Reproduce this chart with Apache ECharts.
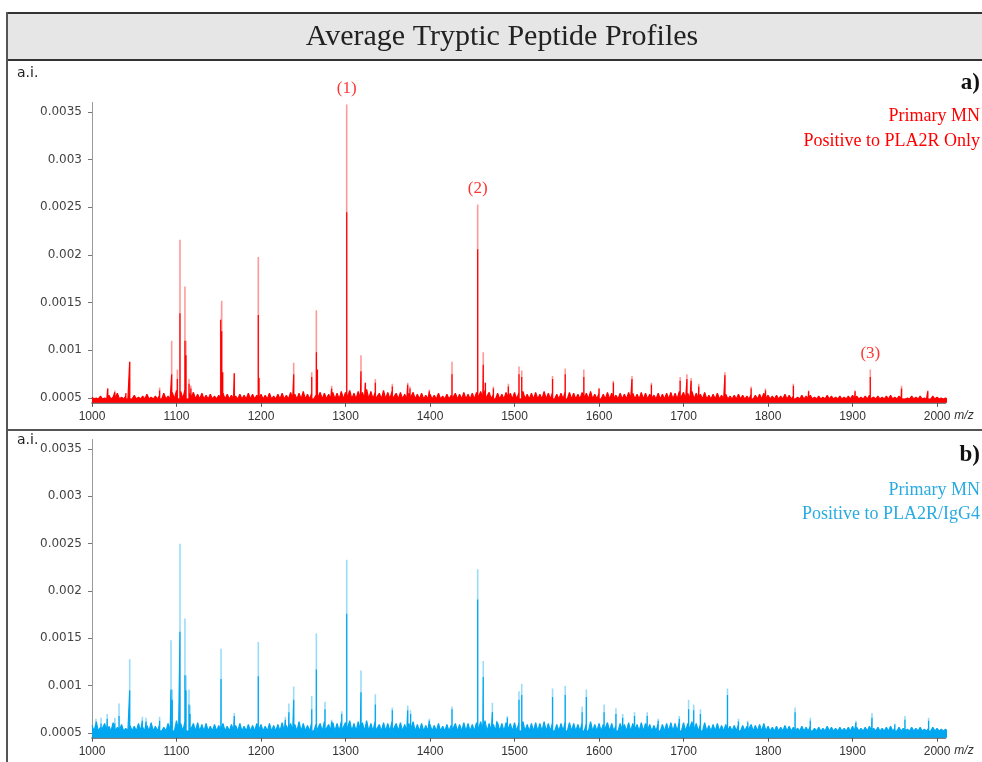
<!DOCTYPE html>
<html><head><meta charset="utf-8">
<script src="https://cdn.jsdelivr.net/npm/echarts@6/dist/echarts.min.js"></script>
<style>html,body{margin:0;padding:0;background:#fff}#c{width:982px;height:762px}</style>
</head><body><div id="c"></div>
<script>
// ---------- data ----------
const xTicks = [1000,1100,1200,1300,1400,1500,1600,1700,1800,1900,2000];
const yTicks = [0.0005,0.001,0.0015,0.002,0.0025,0.003,0.0035];

// peaks: [m/z, top intensity, intensity of the dense (core) part]
const peaksA = [
 [1018.6,0.00060,0.00060],[1027,0.00058,0.00056],[1040,0.00055,0.00055],[1044.6,0.00088,0.00088],
 [1080,0.00061,0.00058],[1094.3,0.00110,0.00075],[1101,0.00080,0.00070],[1104.1,0.00216,0.00139],
 [1110,0.00167,0.00110],[1111.2,0.00110,0.00095],[1114.8,0.00070,0.00065],[1117,0.00063,0.00060],
 [1152.3,0.00132,0.00132],[1153.5,0.00152,0.00120],[1154.6,0.00077,0.00077],[1168.4,0.00076,0.00076],
 [1196.8,0.00198,0.00137],[1197.6,0.00071,0.00071],[1238.7,0.00087,0.00075],[1260,0.00077,0.00072],
 [1265.5,0.00142,0.00098],[1266.7,0.00080,0.00080],[1283.6,0.00063,0.00060],[1301.4,0.00358,0.00245],
 [1318.3,0.00095,0.00078],[1323.5,0.00066,0.00066],[1335.3,0.00070,0.00066],[1355.4,0.00065,0.00062],
 [1373.6,0.00066,0.00064],[1376.3,0.00062,0.00060],[1399.2,0.00059,0.00057],[1426,0.00088,0.00075],
 [1456.4,0.00253,0.00206],[1463,0.00098,0.00085],[1465.5,0.00066,0.00066],[1475,0.00062,0.00060],
 [1492.7,0.00065,0.00062],[1505.3,0.00083,0.00075],[1508.5,0.00079,0.00072],[1545,0.00073,0.00070],
 [1560,0.00081,0.00075],[1582,0.00080,0.00072],[1600,0.00060,0.00060],[1617,0.00068,0.00066],
 [1639,0.00073,0.00070],[1662,0.00066,0.00064],[1696,0.00072,0.00068],[1704,0.00075,0.00070],
 [1709,0.00071,0.00068],[1718,0.00065,0.00062],[1749,0.00077,0.00074],[1780,0.00062,0.00060],
 [1797,0.00060,0.00058],[1830,0.00065,0.00063],[1848,0.00058,0.00057],[1903,0.00058,0.00057],
 [1921,0.00080,0.00072],[1958,0.00063,0.00060],[1989,0.00058,0.00057]
];
const peaksB = [
 [1004.7,0.00065,0.00060],[1010.7,0.00066,0.00060],[1018,0.00070,0.00065],[1027,0.00066,0.00060],
 [1032,0.00081,0.00068],[1044.6,0.00128,0.00095],[1059.6,0.00067,0.00063],[1064,0.00066,0.00062],
 [1080,0.00067,0.00063],[1093.5,0.00148,0.00096],[1095,0.00096,0.00085],[1104.1,0.00250,0.00157],
 [1110,0.00171,0.00111],[1111.2,0.00111,0.00095],[1114.8,0.00096,0.00080],[1116,0.00079,0.00070],
 [1152.7,0.00139,0.00107],[1168.4,0.00071,0.00068],[1196.8,0.00146,0.00110],[1228.8,0.00067,0.00064],
 [1233,0.00081,0.00072],[1238.7,0.00099,0.00085],[1260,0.00089,0.00075],[1265.5,0.00155,0.00117],
 [1275.7,0.00083,0.00075],[1283.6,0.00064,0.00062],[1295.5,0.00073,0.00070],[1301.4,0.00233,0.00176],
 [1318.3,0.00116,0.00093],[1335.3,0.00091,0.00080],[1355.4,0.00077,0.00074],[1373.6,0.00079,0.00074],
 [1377,0.00074,0.00070],[1399.2,0.00065,0.00063],[1426,0.00078,0.00075],[1456.4,0.00223,0.00191],
 [1463,0.00126,0.00109],[1473.8,0.00082,0.00072],[1479,0.00063,0.00062],[1491.5,0.00068,0.00066],
 [1505.3,0.00094,0.00085],[1508.5,0.00102,0.00090],[1545,0.00097,0.00088],[1560,0.00100,0.00090],
 [1580,0.00078,0.00072],[1585,0.00096,0.00088],[1606,0.00080,0.00072],[1620,0.00076,0.00070],
 [1628,0.00070,0.00066],[1642,0.00072,0.00068],[1657,0.00072,0.00068],[1670,0.00065,0.00063],
 [1695,0.00068,0.00065],[1706,0.00085,0.00075],[1712,0.00080,0.00074],[1720,0.00075,0.00070],
 [1752,0.00097,0.00090],[1765,0.00065,0.00062],[1776,0.00063,0.00061],[1832,0.00077,0.00072],
 [1850,0.00066,0.00063],[1904,0.00063,0.00061],[1923,0.00071,0.00066],[1950,0.00060,0.00059],
 [1962,0.00068,0.00064],[1990,0.00066,0.00063]
];

// background "grass": one value every 5 m/z from 1000 to 2010, in units of 1e-5
const noiseStart = 1000, noiseStep = 5, noiseUnit = 1e-5;
const noiseA = [
 51,50,52,50,53,51,55,51,52,50,53,51,52,54,51,52,53,55,52,56,
 58,57,59,55,56,54,55,53,54,52,53,55,54,53,52,54,53,55,54,53,
 54,53,55,52,54,55,53,56,54,55,57,54,55,53,56,55,54,56,55,57,
 56,58,55,57,56,59,57,56,55,58,56,57,55,56,54,55,56,54,55,53,
 54,53,55,52,54,53,55,54,56,54,55,56,57,58,56,54,55,54,56,55,
 56,55,57,54,55,56,54,57,55,56,54,55,57,56,55,54,56,55,57,54,
 55,54,56,55,53,55,54,56,55,54,56,55,54,53,55,54,55,56,55,57,
 56,55,57,55,54,56,53,54,55,53,54,52,53,54,53,52,54,53,54,55,
 53,52,53,52,54,53,52,51,53,52,53,51,52,51,53,52,51,52,51,52,
 53,52,51,52,53,51,52,51,52,53,51,52,51,50,52,51,52,50,51,52,
 51,50,50
];
const noiseB = [
 58,62,56,60,57,61,56,59,55,58,57,60,56,58,61,57,59,56,60,62,
 63,60,62,58,60,61,59,60,57,59,58,60,57,59,58,60,57,59,58,60,
 59,57,60,58,59,61,58,60,59,62,60,58,61,59,60,62,59,61,60,62,
 61,63,60,62,61,63,60,62,59,61,60,62,60,61,59,60,62,59,60,58,
 59,58,60,57,59,58,60,59,61,60,59,61,62,63,60,59,61,60,61,60,
 61,60,62,59,60,61,60,62,60,61,59,60,62,61,60,59,61,60,62,59,
 60,59,61,60,58,60,59,61,60,59,61,60,59,58,60,59,60,61,60,62,
 61,60,62,60,59,61,58,59,60,58,59,57,58,59,58,57,59,58,59,60,
 57,56,57,56,58,57,56,55,57,56,57,55,56,55,57,56,55,56,55,56,
 57,56,55,56,57,55,56,55,56,57,55,56,55,54,56,55,56,54,55,56,
 55,54,54
];
const baseA = 0.00049, baseB = 0.00052;
const annotA = [[1301.4,0.00358,'(1)'],[1456.4,0.00253,'(2)'],[1921,0.00080,'(3)']];

// ---------- build series data ----------
function stickLine(peaks, idx, base) {
  const pts = [];
  peaks.slice().sort((a,b)=>a[0]-b[0]).forEach(p => { pts.push([p[0],base],[p[0],p[idx]],[p[0],base]); });
  return pts;
}
function denseLine(peaks, noise, base) {
  const ev = [];
  noise.forEach((v,i) => {
    const x = noiseStart + i*noiseStep;
    ev.push({x:x, pts:[[x, v*noiseUnit]]});
    ev.push({x:x+noiseStep/2, pts:[[x+noiseStep/2, base]]});
  });
  peaks.forEach(p => ev.push({x:p[0], pts:[[p[0],base],[p[0],p[2]],[p[0],base]]}));
  ev.sort((a,b)=>a.x-b.x);
  const out = [];
  ev.forEach(e => e.pts.forEach(q => out.push(q)));
  return out;
}

const RED = '#ff0000', RED_L = 'rgba(255,0,0,0.4)';
const BLUE = '#00a7f0', BLUE_L = 'rgba(0,167,240,0.4)';
const BLUE_T = '#29abe2';

function xAxisCfg(gi){
  return {
    type:'value', gridIndex:gi, min:1000, max:2010,
    name:'m/z', nameLocation:'end', nameGap:6,
    nameTextStyle:{fontStyle:'italic', fontFamily:'Liberation Sans', fontSize:12, color:'#333', verticalAlign:'top', padding:[7,0,0,0]},
    axisLine:{show:true, onZero:false, lineStyle:{color:'#555', width:1.5}},
    axisTick:{show:true, length:4, customValues:xTicks, lineStyle:{color:'#555'}},
    axisLabel:{customValues:xTicks, fontFamily:'Liberation Sans', fontSize:12, color:'#333', margin:8,
      formatter: v => String(Math.round(v))},
    splitLine:{show:false}
  };
}
function yAxisCfg(gi){
  return {
    type:'value', gridIndex:gi, min:0.00045, max:0.0036,
    axisLine:{show:true, lineStyle:{color:'#999', width:1}},
    axisTick:{show:true, length:4, customValues:yTicks, lineStyle:{color:'#777'}},
    axisLabel:{customValues:yTicks, fontFamily:'DejaVu Sans', fontSize:12, color:'#444', margin:10,
      formatter: v => String(+v.toFixed(4))},
    splitLine:{show:false}
  };
}
function lineSeries(data, color, gi, area, z, w){
  const s = {type:'line', xAxisIndex:gi, yAxisIndex:gi, data:data, showSymbol:false, symbol:'none',
    lineStyle:{color:color, width:w}, itemStyle:{color:color}, z:z, silent:true, animation:false};
  if (area) s.areaStyle = {color:color, opacity:1, origin:'start'};
  return s;
}

const chart = echarts.init(document.getElementById('c'), null, {renderer:'canvas'});
const option = {
  animation:false,
  backgroundColor:'#fff',
  grid:[
    {left:92, top:102.5, width:853.5, height:300.3, outerBoundsMode:'none', containLabel:false},
    {left:92, top:439.5, width:853.5, height:298.2, outerBoundsMode:'none', containLabel:false}
  ],
  xAxis:[xAxisCfg(0), xAxisCfg(1)],
  yAxis:[yAxisCfg(0), yAxisCfg(1)],
  series:[
    lineSeries(stickLine(peaksA,1,baseA), RED_L, 0, false, 2, 1.6),
    lineSeries(denseLine(peaksA,noiseA,baseA), RED, 0, true, 3, 1.2),
    lineSeries(stickLine(peaksB,1,baseB), BLUE_L, 1, false, 2, 1.6),
    lineSeries(denseLine(peaksB,noiseB,baseB), BLUE, 1, true, 3, 1.2),
    {type:'scatter', xAxisIndex:0, yAxisIndex:0, symbolSize:0, silent:true, z:5,
     data:annotA.map(a=>({value:[a[0],a[1]], name:a[2]})),
     label:{show:true, position:'top', distance:7, formatter:p=>p.name,
       fontFamily:'Liberation Serif', fontSize:17, color:RED}}
  ],
  graphic:[
    {type:'rect', z:-10, shape:{x:7, y:13, width:1000, height:47}, style:{fill:'#e6e6e6', stroke:'#333', lineWidth:2}},
    {type:'line', z:-5, shape:{x1:7, y1:12, x2:7, y2:770}, style:{stroke:'#555', lineWidth:2}},
    {type:'line', z:-5, shape:{x1:7, y1:430, x2:990, y2:430}, style:{stroke:'#555', lineWidth:2}},
    {type:'text', x:502, y:37, style:{text:'Average Tryptic Peptide Profiles', align:'center', verticalAlign:'middle',
      font:'normal 30px "Liberation Serif"', fill:'#222'}},
    {type:'text', x:17, y:73, style:{text:'a.i.', align:'left', verticalAlign:'middle', font:'14px "DejaVu Sans"', fill:'#222'}},
    {type:'text', x:17, y:440, style:{text:'a.i.', align:'left', verticalAlign:'middle', font:'14px "DejaVu Sans"', fill:'#222'}},
    {type:'text', x:980, y:83, style:{text:'a)', align:'right', verticalAlign:'middle', font:'bold 23px "Liberation Serif"', fill:'#111'}},
    {type:'text', x:980, y:455, style:{text:'b)', align:'right', verticalAlign:'middle', font:'bold 23px "Liberation Serif"', fill:'#111'}},
    {type:'text', x:980, y:116, style:{text:'Primary MN', align:'right', verticalAlign:'middle', font:'18px "Liberation Serif"', fill:RED}},
    {type:'text', x:980, y:141, style:{text:'Positive to PLA2R Only', align:'right', verticalAlign:'middle', font:'18px "Liberation Serif"', fill:RED}},
    {type:'text', x:980, y:490, style:{text:'Primary MN', align:'right', verticalAlign:'middle', font:'18px "Liberation Serif"', fill:BLUE_T}},
    {type:'text', x:980, y:514, style:{text:'Positive to PLA2R/IgG4', align:'right', verticalAlign:'middle', font:'18px "Liberation Serif"', fill:BLUE_T}}
  ]
};
chart.setOption(option);
</script>
</body></html>
